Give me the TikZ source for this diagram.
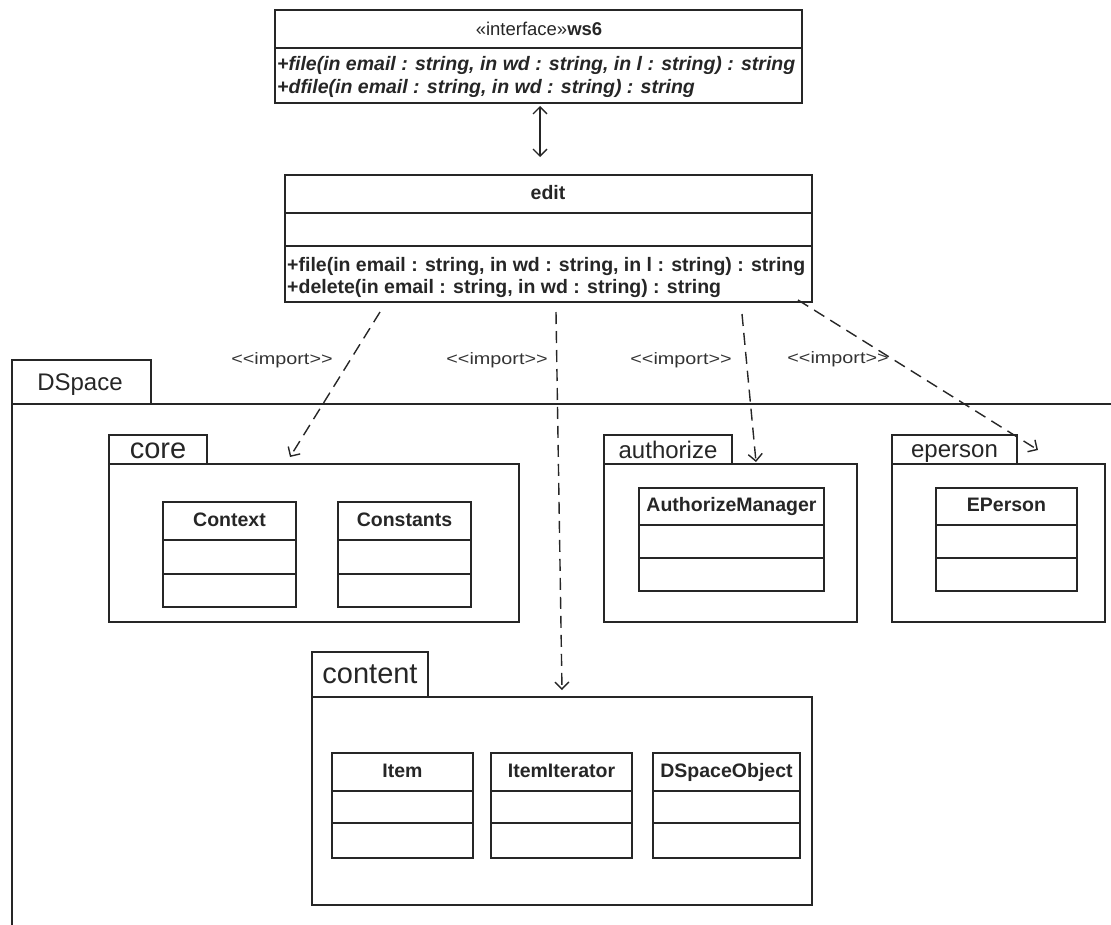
\documentclass[tikz,border=0pt]{standalone}
\usepackage{fontspec}
\setmainfont{Liberation Sans}
\newfontfamily\widefont{Liberation Sans}[FakeStretch=1.2]
\usetikzlibrary{arrows.meta,fit}
\tikzset{
  ln/.style={line width=1.6pt, draw=black!85},
  clsbox/.style={ln, draw, inner sep=0pt, outer sep=0pt, minimum size=0pt},
  dep/.style={line width=1.4pt, draw=black!85, dash pattern=on 12pt off 7pt, -{Straight Barb[length=7pt,width=14pt]}},
  biarrow/.style={line width=1.3pt, draw=black!85, {Straight Barb[length=7pt,width=14pt]}-{Straight Barb[length=7pt,width=14pt]}},
  lbl/.style={font=\widefont\fontsize{16.5}{18}\selectfont, text=black!80, inner sep=0pt},
  pkgname/.style={text=black!85, inner sep=0pt, anchor=base},
  clsname/.style={font=\bfseries\fontsize{19.5}{21}\selectfont, text=black!85, inner sep=0pt, text height=14pt, text depth=4pt},
  meth/.style={font=\bfseries\fontsize{19.5}{22}\selectfont, text=black!85, anchor=west, inner sep=0pt},
}
\newcommand{\umlcls}[8]{%
  \coordinate (#1-a) at (#2,#3);
  \coordinate (#1-b) at (#4,#5);
  \node[clsbox, fit=(#1-a)(#1-b)] (#1) {};
  \draw[ln] (#2,#6) -- (#4,#6);
  \draw[ln] (#2,#7) -- (#4,#7);
  \node[clsname] (#1-t) at ({(#2+#4)/2},{(#3+#6)/2}) {#8};
}
% #1 name (= label), #2 left, #3 tab top, #4 tab right, #5 body top, #6 body right, #7 body bottom, #8 label baseline, #9 font size
\newcommand{\umlpkg}[9]{%
  \coordinate (#1-ta) at (#2,#3);
  \coordinate (#1-tb) at (#4,#5);
  \node[clsbox, fit=(#1-ta)(#1-tb)] (#1-tab) {};
  \coordinate (#1-ba) at (#2,#5);
  \coordinate (#1-bb) at (#6,#7);
  \node[clsbox, fit=(#1-ba)(#1-bb)] (#1) {};
  \node[pkgname, font=\fontsize{#9}{#9}\selectfont] (#1-t) at ({(#2+#4)/2},#8) {#1};
}
\begin{document}
\begin{tikzpicture}[x=1pt,y=-1pt]
\path[use as bounding box] (0,0) rectangle (1111,924);
\clip (0,0) rectangle (1111,924);

% ws6 interface
\coordinate (ws6-a) at (275,10);
\coordinate (ws6-b) at (802,103);
\node[clsbox, fit=(ws6-a)(ws6-b)] (ws6) {};
\draw[ln] (275,48) -- (802,48);
\node[font=\fontsize{18.5}{20}\selectfont, text=black!85, inner sep=0pt] (ws6-t) at (539,29) {«interface»\textbf{ws6}};
\node[meth, font=\bfseries\itshape\fontsize{19.5}{22}\selectfont] (ws6-m1) at (277,65) {+file(in email : string, in wd : string, in l : string) : string};
\node[meth, font=\bfseries\itshape\fontsize{19.5}{22}\selectfont] (ws6-m2) at (277,88) {+dfile(in email : string, in wd : string) : string};

% edit class
\coordinate (edit-a) at (285,175);
\coordinate (edit-b) at (812,302);
\node[clsbox, fit=(edit-a)(edit-b)] (edit) {};
\draw[ln] (285,213) -- (812,213);
\draw[ln] (285,246) -- (812,246);
\node[clsname] (edit-t) at (548,194) {edit};
\node[meth] (edit-m1) at (287,266) {+file(in email : string, in wd : string, in l : string) : string};
\node[meth] (edit-m2) at (287,288) {+delete(in email : string, in wd : string) : string};

% link ws6 <-> edit
\coordinate (bi-s) at (540,106);
\coordinate (bi-e) at (540,157);
\draw[biarrow] (bi-s) -- (bi-e);

% DSpace package (extends past the picture)
\coordinate (ds-ta) at (12,360);
\coordinate (ds-tb) at (151,404);
\node[clsbox, fit=(ds-ta)(ds-tb)] (dspace-tab) {};
\coordinate (ds-ba) at (12,404);
\coordinate (ds-bb) at (1130,950);
\node[clsbox, fit=(ds-ba)(ds-bb)] (dspace) {};
\node[pkgname, font=\fontsize{24}{26}\selectfont] (dspace-t) at (80,390) {DSpace};

% sub packages
\umlpkg{core}{109}{435}{207}{464}{519}{622}{458}{29}
\umlpkg{authorize}{604}{435}{732}{464}{857}{622}{458}{24}
\umlpkg{eperson}{892}{435}{1017}{464}{1105}{622}{457}{24}
\umlpkg{content}{312}{652}{428}{697}{812}{905}{683}{29}

% classes
\umlcls{context}{163}{502}{296}{607}{540}{574}{Context}
\umlcls{constants}{338}{502}{471}{607}{540}{574}{Constants}
\umlcls{authmgr}{639}{488}{824}{591}{525}{558}{AuthorizeManager}
\umlcls{eperscls}{936}{488}{1077}{591}{525}{558}{EPerson}
\umlcls{item}{332}{753}{473}{858}{791}{823}{Item}
\umlcls{itemit}{491}{753}{632}{858}{791}{823}{ItemIterator}
\umlcls{dso}{653}{753}{800}{858}{791}{823}{DSpaceObject}

% import dependencies
\coordinate (a1s) at (380,312);
\coordinate (a1e) at (290,457);
\coordinate (a2s) at (556,312);
\coordinate (a2e) at (562,690);
\coordinate (a3s) at (742,314);
\coordinate (a3e) at (756,462);
\coordinate (a4s) at (798,300);
\coordinate (a4e) at (1038,450);
\draw[dep] (a1s) -- (a1e);
\draw[dep] (a2s) -- (a2e);
\draw[dep] (a3s) -- (a3e);
\draw[dep] (a4s) -- (a4e);

\node[lbl] (l1) at (282,360) {<<import>>};
\node[lbl] (l2) at (497,360) {<<import>>};
\node[lbl] (l3) at (681,360) {<<import>>};
\node[lbl] (l4) at (838,359) {<<import>>};
\end{tikzpicture}
\end{document}
